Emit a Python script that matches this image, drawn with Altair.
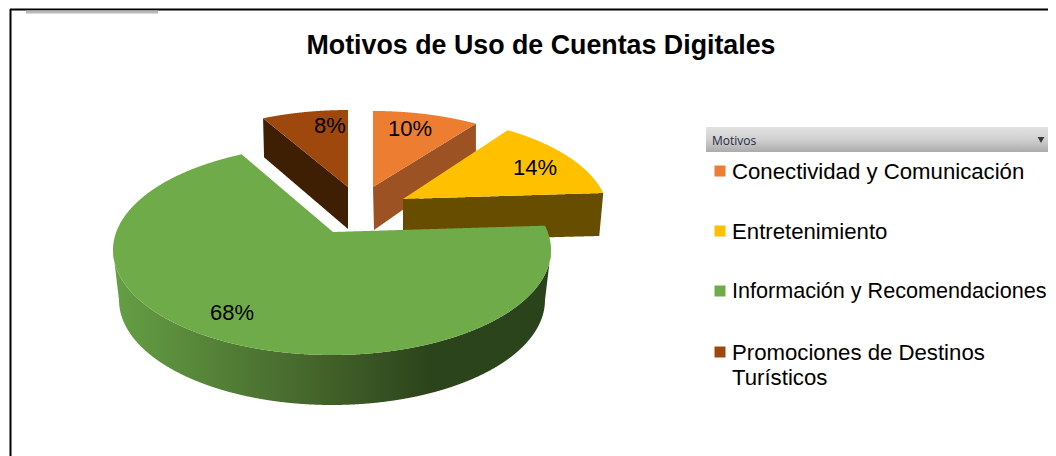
import math
import numpy as np
import pandas as pd
import altair as alt

# ---- values ----
categories = ["Conectividad y Comunicación", "Entretenimiento",
              "Información y Recomendaciones", "Promociones de Destinos\nTurísticos"]
shares = [10, 14, 68, 8]
title = "Motivos de Uso de Cuentas Digitales"
legend_title = "Motivos"

# ---- styling / layout ----
top_colors = ["#ED7D31", "#FFC000", "#6FAB48", "#9E480E"]
wall_colors = ["#9C5222", "#664D00", None, "#3F1F03"]
apex = [(373, 187), (403, 199), (333, 232), (348, 187)]
depth = [(43, 35), (42, 43), (50, 50), (42, 39)]     # depth at apex, depth at rim
scale_k = [0.874, 0.95, 1.0, 0.885]
scale_x = [0.924, 0.94, 1.0, 0.94]
label_pos = [(410, 129), (535, 168), (232, 313), (330, 126)]
legend_y = [171, 231, 291, 352]
legend_font = [22.2, 22.2, 21.6, 22.2]
A0, B0, PERSP, K = 219, 105, 18, 0.841
XD, YD = [8, 1048], [456, 8]

X = alt.X("x:Q", scale=alt.Scale(domain=XD), axis=None)
Y = alt.Y("y:Q", scale=alt.Scale(domain=YD), axis=None)


def rim_angle(a_deg):
    a = math.radians(a_deg) / 2
    return 2 * math.atan2(K * math.sin(a), math.cos(a))


def envelope(poly):
    p = np.array(poly, float)
    xs = np.unique(np.r_[p[:, 0], np.arange(math.ceil(p[:, 0].min()), p[:, 0].max(), 0.5)])
    q = np.roll(p, -1, axis=0)
    rows = []
    for x in xs:
        ys = []
        for (x1, y1), (x2, y2) in zip(p, q):
            if min(x1, x2) <= x <= max(x1, x2):
                if x1 == x2:
                    ys += [y1, y2]
                else:
                    ys.append(y1 + (x - x1) / (x2 - x1) * (y2 - y1))
        rows.append({"x": float(x), "y": min(ys), "y2": max(ys)})
    return pd.DataFrame(rows)


def area(poly, color):
    return alt.Chart(envelope(poly)).mark_area(color=color, interpolate="linear").encode(
        x=X, y=Y, y2="y2:Q")


# wedge geometry comes from the shares
starts = np.r_[0, np.cumsum(shares)[:-1]] * 3.6
tops, walls = [], []
for i, sh in enumerate(shares):
    ax, ay = apex[i]
    s = scale_k[i]
    cy = ay + s * PERSP
    A, B = scale_x[i] * A0, s * B0
    t0, t1 = rim_angle(starts[i]), rim_angle(starts[i] + sh * 3.6)
    ts = np.linspace(t0, t1, 200)
    rim = [(ax - (1 if i == 2 else 0) + A * math.sin(t), cy - B * math.cos(t)) for t in ts]
    tops.append([(ax, ay)] + rim)
    d0, d1 = depth[i]
    if i == 0:    # clockwise edge of the wedge is visible
        e = rim[-1]
        walls.append([(ax, ay), e, (e[0], e[1] + d1), (ax + 1, ay + d0)])
    elif i == 1:
        e = rim[-1]
        walls.append([(ax, ay), e, (e[0] - 4, e[1] + d1), (ax, ay + d0)])
    elif i == 3:
        e = rim[0]
        walls.append([(ax, ay), e, (e[0] + 1, e[1] + d1), (ax, ay + d0)])
    else:
        walls.append(None)

# green outer wall
cx, cy = apex[2][0] - 1, apex[2][1] + PERSP
tt = np.radians(np.linspace(90, 270, 300))
outer = [(cx + A0 * math.sin(t), cy - B0 * math.cos(t)) for t in tt]
inner = [(cx + 213 * math.sin(t), cy + depth[2][1] - B0 * math.cos(t)) for t in tt[::-1]]
green_grad = alt.LinearGradient(
    gradient="linear", x1=0, x2=1, y1=0, y2=0,
    stops=[alt.GradientStop(offset=0, color="#659F44"),
           alt.GradientStop(offset=0.45, color="#45662C"),
           alt.GradientStop(offset=0.72, color="#2C441B"),
           alt.GradientStop(offset=1, color="#2B431B")])

layers = []
for i in (3, 0, 1):
    layers.append(area(walls[i], wall_colors[i]))
    layers.append(area(tops[i], top_colors[i]))
layers.append(area(outer + inner, green_grad))
layers.append(area(tops[2], top_colors[2]))

# percent labels
lab = pd.DataFrame({"x": [p[0] for p in label_pos], "y": [p[1] for p in label_pos],
                    "t": [f"{v}%" for v in shares]})
layers.append(alt.Chart(lab).mark_text(font="Liberation Sans", fontSize=22, color="#000000").encode(
    x=X, y=Y, text="t:N"))

# frame
layers.append(alt.Chart(pd.DataFrame({"x": [10], "x2": [1048], "y": [9.5]})).mark_rule(
    color="#000000", strokeWidth=2).encode(x=X, x2="x2:Q", y=Y))
layers.append(alt.Chart(pd.DataFrame({"x": [10.5], "y": [9], "y2": [456]})).mark_rule(
    color="#000000", strokeWidth=2).encode(x=X, y=Y, y2="y2:Q"))
layers.append(alt.Chart(pd.DataFrame({"x": [26], "x2": [158], "y": [12]})).mark_rule(
    color="#B8B8B8", strokeWidth=3).encode(x=X, x2="x2:Q", y=Y))

# legend header
head_grad = alt.LinearGradient(
    gradient="linear", x1=0, x2=0, y1=0, y2=1,
    stops=[alt.GradientStop(offset=0, color="#E2E2E2"),
           alt.GradientStop(offset=0.5, color="#D0D0D0"),
           alt.GradientStop(offset=1, color="#ABABAB")])
layers.append(alt.Chart(pd.DataFrame({"x": [706], "x2": [1048], "y": [127], "y2": [152]})).mark_rect(
    color=head_grad).encode(x=X, x2="x2:Q", y=Y, y2="y2:Q"))
layers.append(alt.Chart(pd.DataFrame({"x": [712], "y": [141], "t": [legend_title]})).mark_text(
    font="Open Sans", fontSize=12, align="left", color="#1F2A44").encode(x=X, y=Y, text="t:N"))
layers.append(alt.Chart(pd.DataFrame({"x": [1041], "y": [140]})).mark_point(
    shape="triangle-down", filled=True, size=45, color="#3A3A3A", opacity=1).encode(x=X, y=Y))

# legend entries
leg = pd.DataFrame({"x": [720] * 4, "tx": [732] * 4, "y": legend_y, "ty": [v - 10 for v in legend_y],
                    "c": categories, "fs": legend_font})
color = alt.Color("c:N", scale=alt.Scale(domain=categories, range=top_colors), legend=None)
layers.append(alt.Chart(leg).mark_square(size=121, opacity=1).encode(x=X, y=Y, color=color))
layers.append(alt.Chart(leg).mark_text(
    font="Liberation Sans", align="left", baseline="top", lineBreak="\n",
    lineHeight=25, color="#000000").encode(
    x=alt.X("tx:Q", scale=alt.Scale(domain=XD), axis=None),
    y=alt.Y("ty:Q", scale=alt.Scale(domain=YD), axis=None),
    size=alt.Size("fs:Q", scale=None, legend=None),
    text="c:N"))

chart = alt.layer(*layers).properties(
    width=1040, height=448, padding=0, autosize=alt.AutoSizeParams(type="none"),
    background="#FFFFFF",
    title=alt.TitleParams(title, font="Liberation Sans", fontSize=26.8, fontWeight="bold",
                          color="#000000", anchor="middle", dx=13, dy=52, offset=0),
).configure_view(stroke=None)

chart.save("out.html", embed_options={"renderer": "svg", "actions": False})
